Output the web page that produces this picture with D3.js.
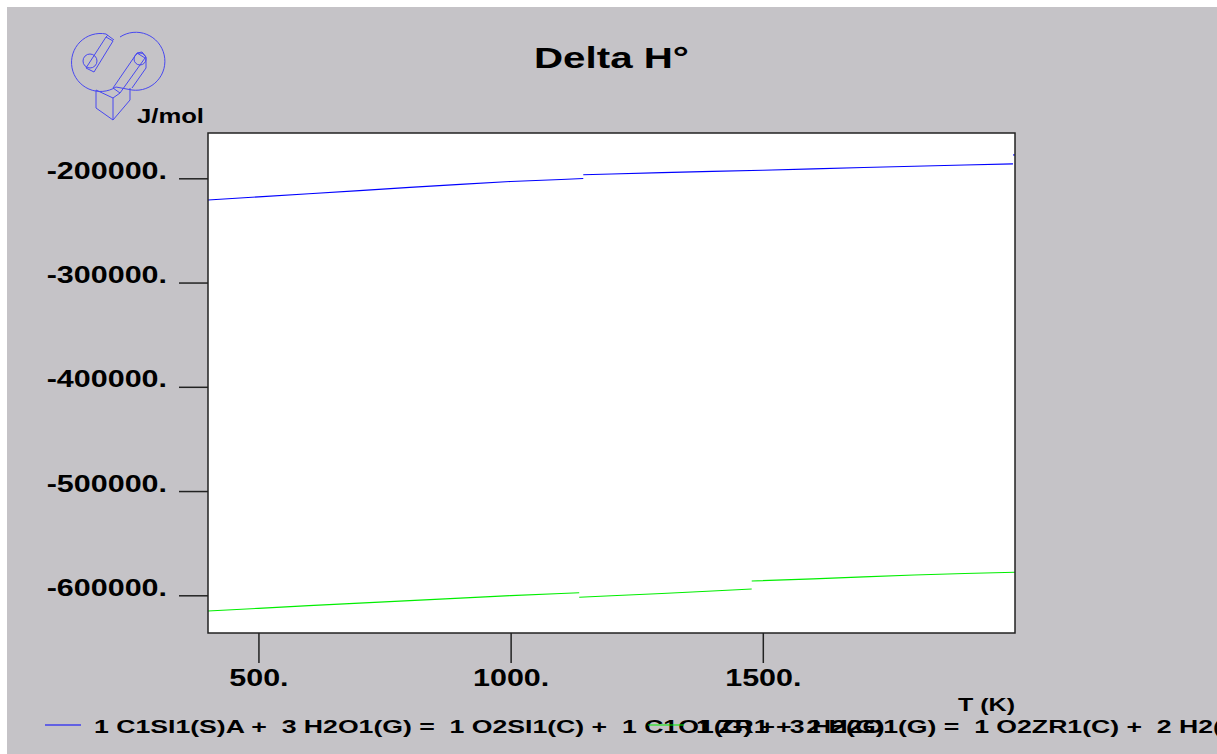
<!DOCTYPE html>
<html><head><meta charset="utf-8">
<script src="https://cdn.jsdelivr.net/npm/d3@7"></script>
<style>html,body{margin:0;padding:0;background:#fff;overflow:hidden}
text{font-family:"Liberation Sans",Arial,sans-serif;font-weight:bold;fill:#000;white-space:pre}</style>
</head><body>
<svg id="c" width="1217" height="754"></svg>
<script>
// ---- data ----
const xTicks = [500, 1000, 1500];
const xTickLabels = ["500.", "1000.", "1500."];
const yTicks = [-200000, -300000, -400000, -500000, -600000];
const yTickLabels = ["-200000.", "-300000.", "-400000.", "-500000.", "-600000."];
const xDomain = [400, 2000];
const yDomain = [-600000, -200000];

// Series 1: SiC + 3 H2O = SiO2 + CO + 3 H2 (segments separated at phase changes)
const sicSeg1 = [[400,-220800],[500,-217800],[600,-214800],[700,-211800],[800,-208700],[900,-205800],[1000,-203000],[1100,-201200],[1144,-200200]];
const sicSeg2 = [[1144,-196600],[1200,-195900],[1300,-194600],[1400,-193400],[1500,-192300],[1600,-191000],[1700,-189700],[1800,-188500],[1900,-187300],[1996,-186200]];
const sicSeg3 = [[1996,-177600],[2000,-177600]];
// Series 2: Zr + 2 H2O = ZrO2 + 2 H2
const zrSeg1 = [[400,-615100],[500,-612500],[600,-609900],[700,-607500],[800,-605100],[900,-602700],[1000,-600300],[1100,-598300],[1136,-597500]];
const zrSeg2 = [[1136,-601900],[1200,-600500],[1300,-598300],[1400,-595900],[1478,-593900]];
const zrSeg3 = [[1478,-586300],[1600,-584200],[1700,-582300],[1800,-580500],[1900,-579100],[2000,-577900]];

const seriesNames = ["1 C1SI1(S)A +  3 H2O1(G) =  1 O2SI1(C) +  1 C1O1(G) +  3 H2(G)",
                     "1 ZR1 +  2 H2O1(G) =  1 O2ZR1(C) +  2 H2(G)"];
const seriesSegments = [[sicSeg1, sicSeg2, sicSeg3], [zrSeg1, zrSeg2, zrSeg3]];
const titleText = "Delta H\u00b0";
const yUnit = "J/mol";
const xTitle = "T (K)";

// ---- style/layout ----
const colors = ["#0000ff", "#00ee00"];
const svg = d3.select("#c");
const L = 208, R = 1015, T = 133, B = 633;
const x = d3.scaleLinear(xDomain, [L, R]);
const y = d3.scaleLinear(yDomain, [595.3, 178.3]);

svg.append("rect").attr("x", 7).attr("y", 7).attr("width", 1210).attr("height", 747).attr("fill", "#c5c3c7");
svg.append("rect").attr("x", L).attr("y", T).attr("width", R - L).attr("height", B - T).attr("fill", "#fff");

// axes
const sx = 1.27;
const gy = svg.append("g").attr("transform", `translate(${L},0)`)
  .call(d3.axisLeft(y).tickValues(yTicks).tickSize(29).tickSizeOuter(0).tickFormat((d, i) => yTickLabels[i]));
gy.select(".domain").remove();
gy.selectAll(".tick line").attr("stroke", "#222").attr("stroke-width", 1.5);
gy.selectAll(".tick text").attr("x", 0).attr("dy", 0).attr("y", 0)
  .attr("text-anchor", "end").attr("font-size", 24)
  .attr("transform", `translate(-41,0) scale(${sx},1)`);
gy.attr("font-family", null).attr("font-size", null);

const gx = svg.append("g").attr("transform", `translate(0,${B})`)
  .call(d3.axisBottom(x).tickValues(xTicks).tickSize(30).tickSizeOuter(0).tickFormat((d, i) => xTickLabels[i]));
gx.select(".domain").remove();
gx.selectAll(".tick line").attr("stroke", "#222").attr("stroke-width", 1.5);
gx.selectAll(".tick text").attr("y", 0).attr("dy", 0).attr("x", 0)
  .attr("text-anchor", "middle").attr("font-size", 24)
  .attr("transform", `translate(0,53) scale(${sx},1)`);
gx.attr("font-family", null).attr("font-size", null);

// clip & lines
svg.append("clipPath").attr("id", "clip").append("rect").attr("x", L).attr("y", T - 2).attr("width", R - L + 1).attr("height", B - T + 2);
const line = d3.line().x(d => x(d[0])).y(d => y(d[1]));
seriesSegments.forEach((segs, si) => {
  svg.append("g").attr("clip-path", "url(#clip)").selectAll("path").data(segs).join("path")
    .attr("d", line).attr("fill", "none").attr("stroke", colors[si]).attr("stroke-width", 1.1);
});

// frame
svg.append("rect").attr("x", L).attr("y", T).attr("width", R - L).attr("height", B - T)
  .attr("fill", "none").attr("stroke", "#222").attr("stroke-width", 1.5);

// title and labels
svg.append("text").attr("x", 534).attr("y", 68).attr("font-size", 29)
  .attr("textLength", 155).attr("lengthAdjust", "spacingAndGlyphs").text(titleText);
svg.append("text").attr("x", 137).attr("y", 123).attr("font-size", 21)
  .attr("textLength", 67).attr("lengthAdjust", "spacingAndGlyphs").text(yUnit);
svg.append("text").attr("x", 958).attr("y", 711).attr("font-size", 18)
  .attr("textLength", 57).attr("lengthAdjust", "spacingAndGlyphs").text(xTitle);

// legend
const legX = [45, 648];
const legTextX = [94, 696];
seriesNames.forEach((name, i) => {
  svg.append("line").attr("x1", legX[i]).attr("x2", legX[i] + 36).attr("y1", 725).attr("y2", 725)
    .attr("stroke", colors[i]).attr("stroke-width", 1.1);
  svg.append("text").attr("transform", `translate(${legTextX[i]},733) scale(1.48,1)`)
    .attr("font-size", 18).text(name);
});

// logo (decorative outline)
const logo = svg.append("g").attr("fill", "none").attr("stroke", "#4848f0").attr("stroke-width", 1);
logo.append("path").attr("d", "M106,34 A29,29 0 1,0 116,87");
logo.append("path").attr("d", "M120,37 A29,29 0 1,1 132,90");
logo.append("path").attr("d", "M106,34 L114,40 M116,87 L132,90");
logo.append("circle").attr("cx", 90).attr("cy", 61).attr("r", 7);
logo.append("circle").attr("cx", 140).attr("cy", 59).attr("r", 6);
logo.append("path").attr("d", "M86,68 L106,37 L113,41 L94,72 Z M106,37 L108,35");
logo.append("path").attr("d", "M137,53 L113,88 L120,93 L145,58 Z M137,53 L142,52 L146,57 L146,68 L132,88");
logo.append("path").attr("d", "M96,90 L96,108 L113,120 L130,100 L130,88 M113,120 L113,98 L120,93 M113,98 L96,90");
</script>
</body></html>
